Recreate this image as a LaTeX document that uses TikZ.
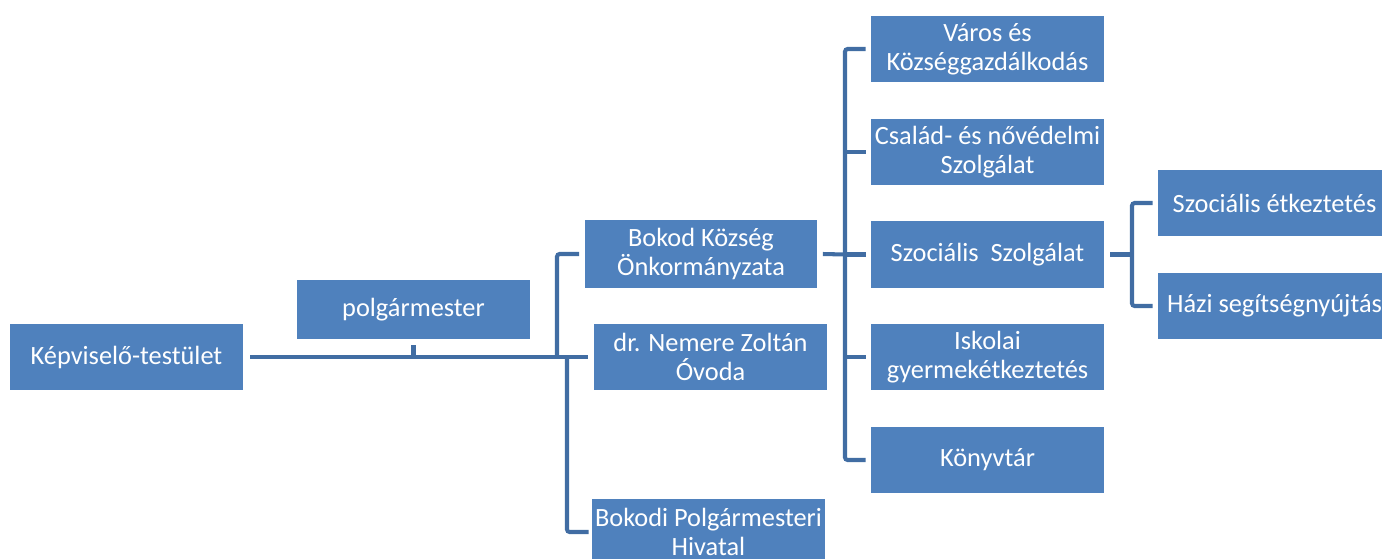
\documentclass[tikz,border=0pt]{standalone}
\usepackage{fontspec}
\setmainfont{Carlito}
\usetikzlibrary{positioning}

\definecolor{boxblue}{HTML}{4F81BD}
\definecolor{lineblue}{HTML}{416DA3}

\begin{document}
\begin{tikzpicture}[x=0.02cm,y=-0.02cm]
\tikzstyle{unit} = [rectangle, fill=boxblue, text=white, align=center,
minimum width=4.66cm, minimum height=1.32cm, inner sep=1pt,
font=\fontsize{15}{16.5}\selectfont]
\tikzstyle{line} = [draw=lineblue, line width=2.3pt, rounded corners=1.5pt];
\useasboundingbox (0,0) rectangle (1382,558);

% left part
\node [unit] (testulet) at (126.5,357) {Képviselő-testület};
\node [unit, minimum height=1.18cm] (polgarm) at (413.5,309.5) {polgármester};
% institutions
\node [unit, minimum height=1.36cm] (onkorm) at (701,254) {Bokod Község\\Önkormányzata};
\node [unit] (ovoda) at (710.5,357) {dr. Nemere Zoltán\\Óvoda};
\node [unit] (hivatal) at (708.5,532) {Bokodi Polgármesteri\\Hivatal};
% tasks
\node [unit] (varos) at (987.5,49) {Város és\\Községgazdálkodás};
\node [unit] (csalad) at (987.5,152) {Család- és nővédelmi\\Szolgálat};
\node [unit, minimum height=1.34cm] (szocszolg) at (987.5,254.5) {Szociális\ \ Szolgálat};
\node [unit] (iskolai) at (987.5,357) {Iskolai\\gyermekétkeztetés};
\node [unit] (konyvtar) at (987.5,460) {Könyvtár};
% social service
\node [unit] (etkezt) at (1274.5,203) {Szociális étkeztetés};
\node [unit] (hazi) at (1274.5,306) {Házi segítségnyújtás};

\coordinate (j1) at (557,358);
\coordinate (j2) at (567,358);
\coordinate (b1) at (845,254.5);
\coordinate (b2) at (1132,254.5);

\path[line] ([xshift=0.14cm]testulet.east) -- ([xshift=-0.12cm]ovoda.west);
\path[line] ([yshift=-0.12cm]polgarm.south) -- (polgarm.south |- j1);
\path[line] (j1) |- ([xshift=-0.1cm]onkorm.west);
\path[line] (j2) |- ([xshift=-0.06cm]hivatal.west);

\path[line] ([xshift=0.1cm]onkorm.east) -- (b1);
\path[line] ([xshift=-0.1cm]varos.west) -| (b1 |- konyvtar.west) -- ([xshift=-0.1cm]konyvtar.west);
\foreach \n in {csalad,szocszolg,iskolai}
  \path[line] (b1 |- \n.west) -- ([xshift=-0.1cm]\n.west);

\path[line] ([xshift=0.12cm]szocszolg.east) -- (b2);
\path[line] ([xshift=-0.1cm]etkezt.west) -| (b2 |- hazi.west) -- ([xshift=-0.1cm]hazi.west);

\end{tikzpicture}
\end{document}
